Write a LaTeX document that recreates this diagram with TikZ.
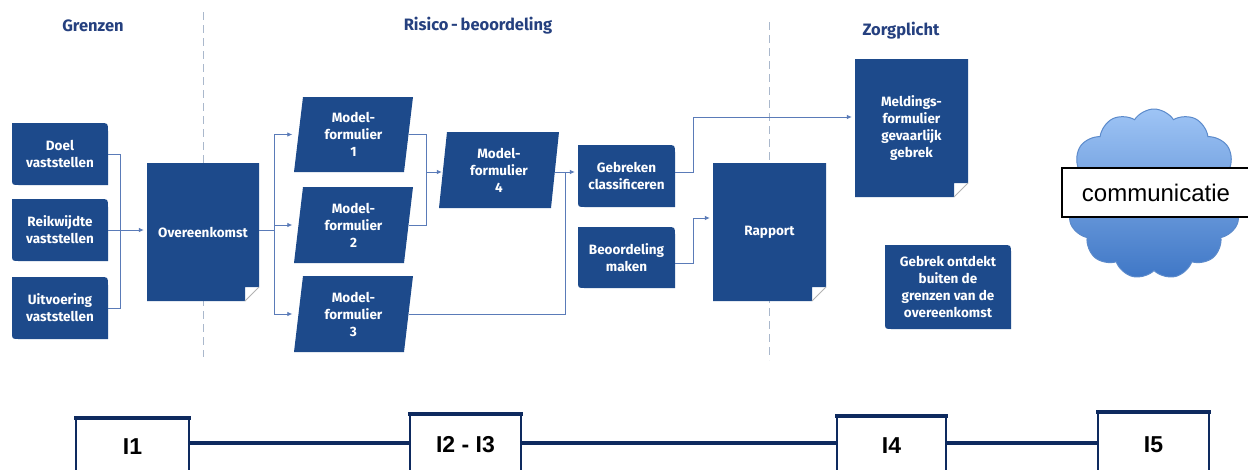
\documentclass[tikz,border=0pt]{standalone}
\usepackage{fontspec}
\setmainfont{Fira Sans}
\newfontfamily\arialf{Liberation Sans}
\usetikzlibrary{arrows.meta,shapes.symbols}
\definecolor{boxblue}{HTML}{1D4A8B}
\definecolor{linkblue}{HTML}{5A7BB8}
\definecolor{titleblue}{HTML}{25407F}
\definecolor{darknavy}{HTML}{0E2A5F}
\definecolor{cloudtop}{HTML}{9EC4F5}
\definecolor{cloudbot}{HTML}{3F77C6}
\definecolor{cloudedge}{HTML}{5B8ACB}
\definecolor{dashgray}{HTML}{AAB8CC}
\tikzset{
  boxtext/.style={text=white, font=\bfseries\fontsize{13.5}{17}\selectfont, align=center, inner sep=0pt},
  titletext/.style={text=titleblue, font=\bfseries\fontsize{16.5}{18}\selectfont, inner sep=0pt},
  link/.style={draw=linkblue, line width=0.8pt},
  arr/.style={link, -{Latex[length=5pt,width=4.5pt]}, shorten >=3pt},
  sep/.style={draw=dashgray, line width=1pt, dash pattern=on 8pt off 5pt},
  tbox/.style={draw=darknavy, line width=2pt, fill=white, inner sep=0pt, anchor=north,
    font=\arialf\bfseries\fontsize{23}{25}\selectfont},
  tline/.style={draw=darknavy, line width=4.5pt},
}
% rounded box: name, x1, y1, x2, y2, text
\newcommand\rbox[6]{%
  \fill[boxblue] (#2,#3) -- ({#4-8},#3) .. controls (#4,#3) .. (#4,{#3+8}) -- (#4,#5)
    -- ({#2+7},#5) .. controls (#2,#5) .. (#2,{#5-7}) -- cycle;
  \node[boxtext, minimum width={#4-#2}, minimum height={#5-#3}] (#1) at ({(#2+#4)/2},{(#3+#5)/2}) {#6};
}
% note box with folded corner: name, x1, y1, x2, y2, text
\newcommand\nbox[6]{%
  \fill[boxblue] (#2,#3) -- (#4,#3) -- (#4,{#5-14}) -- ({#4-14},{#5-14}) -- ({#4-14},#5) -- (#2,#5) -- cycle;
  \draw[gray!60, line width=0.8pt] (#4,{#5-14}) -- ({#4-14},#5);
  \node[boxtext, minimum width={#4-#2}, minimum height={#5-#3}] (#1) at ({(#2+#4)/2},{(#3+#5)/2}) {#6};
}
% parallelogram: name, top-left x, y1, y2, width, slant, text
\newcommand\pbox[7]{%
  \fill[boxblue] (#2,#3) -- ({#2+#5},#3) -- ({#2+#5-#6},#4) -- ({#2-#6},#4) -- cycle;
  \node[boxtext, minimum width={#5}, minimum height={#4-#3}] (#1) at ({#2+#5/2-#6/2},{(#3+#4)/2}) {#7};
}
\begin{document}
\begin{tikzpicture}[x=1pt, y=-1pt]
\useasboundingbox (0,0) rectangle (1248,469);
\fill[white] (0,0) rectangle (1248,469);

% titles
\node[titletext] (tgrenzen) at (93,26) {Grenzen};
\node[titletext] (trisico) at (478,26) {Risico\,-\,beoordeling};
\node[titletext] (tzorg) at (901,31) {Zorgplicht};

% separators
\coordinate (s1a) at (203,12); \coordinate (s1b) at (203,357);
\coordinate (s2a) at (769,22); \coordinate (s2b) at (769,360);
\draw[sep] (s1a) -- (s1b);
\draw[sep] (s2a) -- (s2b);

% boxes
\rbox{doel}{12}{123}{108}{185}{Doel\\vaststellen}
\rbox{reik}{12}{199}{108}{261}{Reikwijdte\\vaststellen}
\rbox{uitv}{12}{277}{108}{339}{Uitvoering\\vaststellen}
\nbox{over}{147}{163}{259}{301}{Overeenkomst}
\pbox{m1}{303}{97}{172}{110}{9}{Model-\\formulier\\1}
\pbox{m2}{303}{187}{263}{110}{9}{Model-\\formulier\\2}
\pbox{m3}{303}{276}{352}{110}{9}{Model-\\formulier\\3}
\pbox{m4}{447}{132}{208}{112}{8}{Model-\\formulier\\4}
\rbox{geb}{578}{145}{675}{207}{Gebreken\\classificeren}
\rbox{beo}{578}{227}{675}{288}{Beoordeling\\maken}
\nbox{rap}{713}{163}{826}{301}{Rapport}
\nbox{meld}{855}{59}{968}{197}{Meldings-\\formulier\\gevaarlijk\\gebrek}
\rbox{buiten}{885}{245}{1011}{329}{Gebrek ontdekt\\buiten de\\grenzen van de\\overeenkomst}

% connectors
\coordinate (j1) at (120,230);
\draw[link] (doel.east) -| (j1);
\draw[link] (uitv.east) -| (j1);
\draw[arr] (reik.east) -- (reik.east -| over.west);

\coordinate (j2) at (274,230);
\draw[link] (over.east |- j2) -- (j2);
\draw[link] (j2 |- m1.west) -- (j2 |- m3.west);
\draw[arr, shorten >=6pt] (j2 |- m1.west) -- (m1.west);
\draw[arr, shorten >=6pt] (j2 |- m2.west) -- (m2.west);
\draw[arr, shorten >=6pt] (j2 |- m3.west) -- (m3.west);

\coordinate (j3) at (426,172);
\draw[link] (m1.east) -| (j3);
\draw[link] (m2.east) -| (j3);
\draw[arr, shorten >=1pt] (j3) -- (j3 -| m4.west);

\coordinate (j4) at (565,172);
\draw[arr] (m4.east |- j4) -- (j4 -| geb.west);
\draw[link] (m3.east) -| (j4);

\coordinate (j5t) at (693,117);
\coordinate (j5m) at (693,218);
\draw[link] (geb.east |- j4) -| (j5t);
\draw[link] (beo.east |- 0,263) -| (j5m);
\draw[arr] (j5m) -- (j5m -| rap.west);
\draw[arr] (j5t) -- (j5t -| meld.west);

% cloud
\node[cloud, cloud puffs=13, cloud puff arc=115, aspect=1.05, minimum width=178pt, minimum height=170pt,
  draw=cloudedge, line width=1pt, top color=cloudtop, bottom color=cloudbot] (cloud) at (1154,194) {};
\node[draw=black, line width=1.2pt, fill=white, minimum width=188pt, minimum height=49pt, inner sep=0pt,
  font=\arialf\fontsize{24}{26}\selectfont] (comm) at (1156,192.5) {communicatie};

% timeline
\node[tbox, minimum width=113pt, minimum height=56pt] (i1) at (132.5,418) {I1};
\node[tbox, minimum width=111pt, minimum height=60pt] (i23) at (465.5,414) {I2 - I3};
\node[tbox, minimum width=109pt, minimum height=58pt] (i4) at (891.5,416) {I4};
\node[tbox, minimum width=111pt, minimum height=64pt] (i5) at (1153.5,412) {I5};
\foreach \b in {i1,i23,i4,i5} { \draw[draw=darknavy, line width=4pt] ([xshift=-1pt]\b.north west) -- ([xshift=1pt]\b.north east); }
\draw[tline] (i1.east |- 0,443) -- (i23.west |- 0,443);
\draw[tline] (i23.east |- 0,443) -- (i4.west |- 0,443);
\draw[tline] (i4.east |- 0,443) -- (i5.west |- 0,443);
\end{tikzpicture}
\end{document}
